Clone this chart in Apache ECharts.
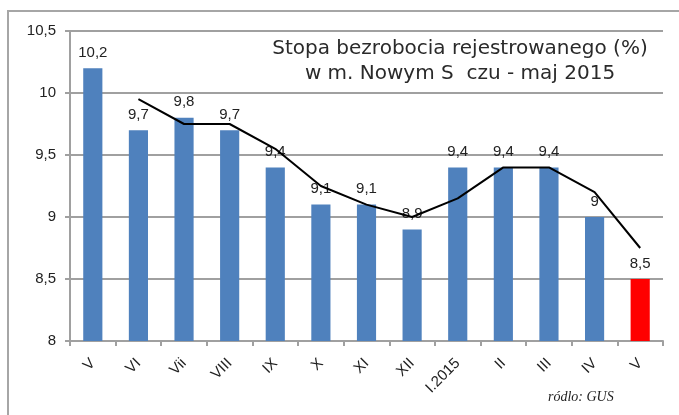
<!DOCTYPE html>
<html>
<head>
<meta charset="utf-8">
<script src="https://cdn.jsdelivr.net/npm/echarts@6/dist/echarts.min.js"></script>
<style>
html,body{margin:0;padding:0;background:#fff;}
#main{width:679px;height:415px;}
</style>
</head>
<body>
<div id="main"></div>
<script>
// miesiace
var categories = ['V','VI','Vii','VIII','IX','X','XI','XII','I.2015','II','III','IV','V'];
// stopa bezrobocia (%)
var values = [10.2, 9.7, 9.8, 9.7, 9.4, 9.1, 9.1, 8.9, 9.4, 9.4, 9.4, 9.0, 8.5];
// linia trendu
var trend = [null, 9.95, 9.75, 9.75, 9.55, 9.25, 9.1, 9.0, 9.15, 9.4, 9.4, 9.2, 8.75];
var yTicks = [8, 8.5, 9, 9.5, 10, 10.5];

window.onload = function(){
    var myChart = echarts.init(document.getElementById('main'));

    function fmt(v){
        return String(v).replace('.', ',');
    }

    var barData = values.map(function(v, i){
        return {
            value: v,
            itemStyle: { color: i === values.length - 1 ? '#ff0000' : '#4f81bd' }
        };
    });

    var option = {
        animation: false,
        backgroundColor: '#fff',
        textStyle: { fontFamily: 'Liberation Sans Narrow, Liberation Sans, sans-serif' },
        grid: { left: 70, right: 16, top: 31, bottom: 74 },
        graphic: [
            {
                type: 'rect',
                shape: { x: 8, y: 11, width: 700, height: 500 },
                style: { fill: 'none', stroke: '#a6a6a6', lineWidth: 2 },
                silent: true
            },
            {
                type: 'text',
                style: {
                    text: 'Stopa bezrobocia rejestrowanego (%)\nw m. Nowym S  czu - maj 2015',
                    x: 460, y: 36,
                    textAlign: 'center',
                    textVerticalAlign: 'top',
                    font: '20px DejaVu Sans, sans-serif',
                    fill: '#2a2a2a',
                    lineHeight: 25
                },
                z: 10
            },
            {
                type: 'text',
                style: {
                    text: 'ródlo: GUS',
                    x: 548, y: 390,
                    font: 'italic 14px Liberation Serif, serif',
                    fill: '#222'
                }
            }
        ],
        xAxis: {
            type: 'category',
            data: categories,
            boundaryGap: true,
            axisLine: { lineStyle: { color: '#a0a0a0', width: 2 } },
            axisTick: { show: true, length: 5, lineStyle: { color: '#a0a0a0', width: 2 } },
            axisLabel: { rotate: 45, color: '#222', fontSize: 15, margin: 20 }
        },
        yAxis: {
            type: 'value',
            min: 8,
            max: 10.5,
            interval: 0.5,
            axisLine: { show: true, lineStyle: { color: '#a0a0a0', width: 2 } },
            axisTick: { show: true, length: 5, lineStyle: { color: '#a0a0a0', width: 2 } },
            splitLine: { lineStyle: { color: '#a0a0a0', width: 2 } },
            axisLabel: {
                color: '#222', fontSize: 15, margin: 14,
                formatter: function(v){ return yTicks.indexOf(v) >= 0 ? fmt(v) : ''; }
            }
        },
        series: [
            {
                type: 'bar',
                data: barData,
                barWidth: '42%',
                label: {
                    show: true,
                    position: 'top',
                    distance: 8,
                    color: '#222',
                    fontSize: 15,
                    formatter: function(p){ return fmt(p.value); }
                }
            },
            {
                type: 'line',
                data: trend,
                showSymbol: false,
                symbol: 'none',
                lineStyle: { color: '#000', width: 2 },
                z: 5
            }
        ]
    };

    myChart.setOption(option);
};
</script>
</body>
</html>
